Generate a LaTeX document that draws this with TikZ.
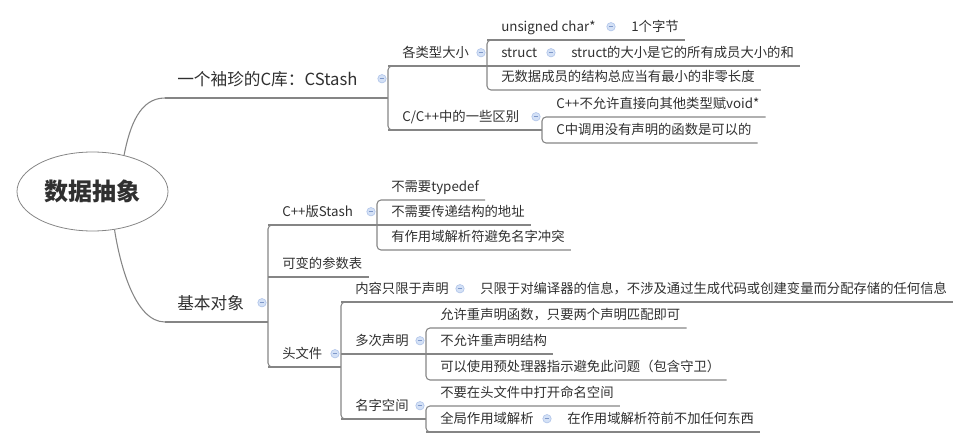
\documentclass[tikz,border=0pt]{standalone}
\usepackage{fontspec}
\setmainfont{Noto Sans CJK SC}
\usetikzlibrary{shapes.geometric}
\definecolor{txt}{HTML}{303030}
\definecolor{ln}{HTML}{858585}
\definecolor{foldfill}{HTML}{D4E1F6}
\definecolor{folddraw}{HTML}{B2C6EA}
\definecolor{foldbar}{HTML}{7E98CA}
\tikzset{
	base/.style={anchor=south west, inner sep=0pt, text=txt, execute at end node=\hspace*{4.5pt}},
	topic/.style={base, font=\fontsize{10}{12}\selectfont, text height=13.55pt, text depth=5.95pt,
		execute at begin node=\hspace*{10.5pt}},
	main/.style={base, font=\fontsize{12.5}{15}\selectfont, text height=19pt, text depth=9.5pt,
		execute at begin node=\hspace*{9pt}},
	link/.style={draw=ln, line width=0.8pt},
	fold/.style={circle, draw=folddraw, fill=foldfill, line width=0.5pt, minimum size=6.3pt, inner sep=0pt,
		path picture={\draw[foldbar, line width=0.8pt] ([xshift=-1.7pt]path picture bounding box.center) -- ([xshift=1.7pt]path picture bounding box.center);}},
}
\begin{document}
\begin{tikzpicture}[x=0.75pt, y=-0.75pt]
	\useasboundingbox (0,0) rectangle (970,448);

	\node[ellipse, draw=ln, line width=0.6pt, minimum width=113.25pt, minimum height=59.25pt, inner sep=0pt,
		text=txt, font=\bfseries\fontsize{18}{20}\selectfont] (root) at (92.5,191.5) {数据抽象};

	\node[main]  (cs) at (165,98)  {一个袖珍的C库：CStash};
	\node[main]  (ba) at (165,322) {基本对象};

	\node[topic] (sz) at (388,66)  {各类型大小};
	\node[topic] (df) at (388,130) {C/C++中的一些区别};
	\node[topic] (uc) at (487,40)  {unsigned char*};
	\node[topic] (ub) at (617,40)  {1个字节};
	\node[topic] (st) at (487,66)  {struct};
	\node[topic] (ss) at (557,66)  {struct的大小是它的所有成员大小的和};
	\node[topic] (nd) at (487,90)  {无数据成员的结构总应当有最小的非零长度};
	\node[topic] (nv) at (542,117) {C++不允许直接向其他类型赋void*};
	\node[topic] (nc) at (542,143) {C中调用没有声明的函数是可以的};

	\node[topic] (cp) at (268,225) {C++版Stash};
	\node[topic] (va) at (268,277) {可变的参数表};
	\node[topic] (hf) at (268,367) {头文件};
	\node[topic] (td) at (377,200) {不需要typedef};
	\node[topic] (ad) at (377,225) {不需要传递结构的地址};
	\node[topic] (sc) at (377,250) {有作用域解析符避免名字冲突};
	\node[topic] (dl) at (341,302) {内容只限于声明};
	\node[topic] (ci) at (466,302) {只限于对编译器的信息，不涉及通过生成代码或创建变量而分配存储的任何信息};
	\node[topic] (md) at (341,354) {多次声明};
	\node[topic] (rf) at (426,328) {允许重声明函数，只要两个声明匹配即可};
	\node[topic] (rs) at (426,354) {不允许重声明结构};
	\node[topic] (pp) at (426,380) {可以使用预处理器指示避免此问题（包含守卫）};
	\node[topic] (nm) at (341,419) {名字空间};
	\node[topic] (on) at (426,406) {不要在头文件中打开命名空间};
	\node[topic] (gs) at (426,432) {全局作用域解析};
	\node[topic] (nb) at (553,432) {在作用域解析符前不加任何东西};

	\draw[link] (root.49) .. controls (130,125) and (140,98) .. (cs.south west);
	\draw[link] (root.-60) .. controls (120,265) and (135,322) .. (ba.south west);

	\foreach \p/\c in {cs/sz, ba/cp, sz/uc, df/nv, cp/td, hf/dl, uc/ub, st/ss, dl/ci, md/rf, nm/on, gs/nb}{
		\draw[link] (\p.south west) -- (\c.south west |- \p.south west);
		\node[fold, xshift=-4.5pt] (\p-f) at (\c.south west |- \p.east) {};
	}
	\foreach \t/\b in {sz/df, uc/nd, nv/nc, cp/hf, td/sc, dl/nm, rf/pp, on/gs}
		\draw[link, rounded corners=3pt] (\t.south east) -| (\b.south west) -- (\b.south east);
	\foreach \m in {st, va, ad, md, rs, ub, ss, ci, nb}
		\draw[link] (\m.south west) -- (\m.south east);
\end{tikzpicture}
\end{document}
